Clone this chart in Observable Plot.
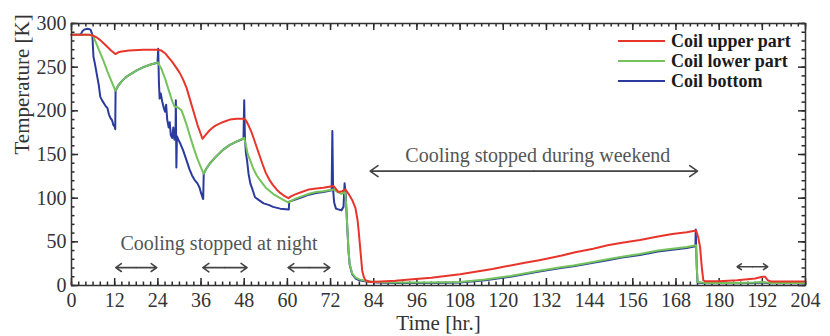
<!DOCTYPE html>
<html><head><meta charset="utf-8">
<script src="https://cdn.jsdelivr.net/npm/d3@7"></script>
<script src="https://cdn.jsdelivr.net/npm/@observablehq/plot@0.6"></script>
<style>
body{margin:0;background:#fff;}
#wrap{position:relative;width:830px;height:336px;overflow:hidden;}
#legend{position:absolute;left:618px;top:31px;font:bold 18px "Liberation Serif",serif;color:#1a1a1a;}
.row{display:flex;align-items:center;height:20px;white-space:nowrap;}
.sw{width:47px;height:2px;margin-right:6px;}
</style></head><body><div id="wrap"></div>
<script>
const seriesNames = ["Coil upper part", "Coil lower part", "Coil bottom"];
const seriesColors = ["#e8352b", "#74c25b", "#2b3a9d"];

// [time hr, temperature K]
const upperPart = [[0,287],[3,287],[5,287],[6,286],[7,284],[8,281],[9,277],[10,273],[11,269],[12.2,265],[13,267],[14,268],[16,269],[20,270],[24,270],[25,269],[26,266],[27,261],[28,256],[29,250],[30,244],[31,236],[32,226],[33,212],[34,198],[35,184],[36.4,168],[37,171],[38,176],[39,180],[40,183],[42,187],[44,190],[46,191],[48,191],[48.5,189],[49,185],[50,176],[51,164],[52,152],[53,140],[54,129],[55,121],[56,115],[57,110],[58,106],[59,103],[60.3,100],[61,102],[62,104],[64,107],[66,110],[68,111],[70,112],[72.8,114],[74.2,107],[75.3,108],[76.1,110],[77,105],[78,98],[78.9,89],[79.5,75],[79.8,63],[80.3,40],[80.8,17],[81.3,9],[81.7,6],[83,4],[86,4.5],[90,5.5],[94,7],[100,9],[108,13],[117,19],[126,26],[130,29],[136,34],[140,38],[145,42],[149,46],[153,49],[158,52],[163,56],[167,59],[171,61],[173.6,63],[174.2,55],[174.7,44],[175.2,20],[175.6,6],[176,5],[180,5],[185,6],[190,8],[192,10],[192.8,10],[193.5,6],[194.5,4.5],[204,4.5]];

const lowerPart = [[0,287],[5,287],[6,286],[6.5,281],[7,276],[8,266],[9,256],[10,245],[11,235],[12.2,223],[13,229],[14,234],[15,238],[16,241],[18,246],[20,250],[22,253],[24,255.5],[25,248],[26,237],[27,224],[28,211],[28.6,205],[29.5,204],[30.5,201],[31,196],[32,184],[33,170],[34,157],[35,145],[36,135],[36.7,128],[37.5,134],[38.5,140],[40,147],[42,155],[44,161],[46,165],[48,169],[48.5,160],[49,150],[49.7,143],[50.5,134],[51.5,126],[52.5,120],[54,112],[56,105],[58,100],[60.3,95],[61,97],[62,99],[64,102],[66,105],[68,107],[70,108],[72.8,110],[74,107],[75,105],[76,107],[76.3,95],[76.6,71],[77,40],[77.3,25],[78,14],[79,9],[80,7],[82,5],[85,4],[90,3.5],[100,3.5],[108,4],[115,7],[122,11],[130,17],[136,21],[139.5,23],[145,27],[149,30],[153,33],[158,36],[163,40],[167,42],[171,44],[173.6,46],[173.8,20],[174,4],[176,3],[185,3],[190,3.5],[192,4],[194,3],[204,3]];

const bottomPart = [[0,287],[2.5,287],[3,291],[3.5,293],[4.5,294],[5.3,293],[5.8,287],[6.1,262],[6.5,254],[7.2,238],[7.6,229],[8,216],[8.5,212],[9.4,206],[10,203],[10.4,196],[10.8,192],[11.3,189],[11.6,184],[12,182],[12.15,179],[12.25,223],[13,229],[14,234],[15,238],[16,241],[18,246],[20,250],[22,253],[23.9,255],[24.1,271],[24.3,232],[24.5,214],[24.8,220],[25.2,211],[25.6,204],[26,199],[26.3,207],[26.6,190],[27,181],[27.3,187],[27.6,172],[28,169],[28.3,181],[28.6,167],[28.9,174],[29.0,212],[29.15,135],[29.3,171],[29.7,167],[30.3,162],[31,155],[32,143],[32.8,133],[33.5,126],[34.2,121],[35,117],[35.6,112],[36,106],[36.4,101],[36.6,99],[36.75,128],[37.5,134],[38.5,140],[40,147],[42,155],[44,161],[46,165],[47.8,168],[48,212],[48.2,168],[48.5,151],[48.8,143],[49.2,128],[49.7,117],[50.3,110],[51,101],[52,98],[53.4,94],[55,92],[56,90],[58,88],[60.4,87],[60.5,96],[62,98],[64,101],[66,104],[68,106],[70,107],[72.3,109],[72.5,177],[72.7,110],[73,95],[73.5,88],[75,86],[75.6,90],[75.9,117],[76.2,104],[76.6,70],[77,39],[77.3,24],[78,13],[79,8],[80,6],[82,4.5],[85,3.5],[90,3],[100,3],[108,3.5],[115,6],[122,10],[130,16],[136,20],[139.5,22],[145,26],[149,29],[153,32],[158,35],[163,39],[167,41],[171,43],[173.4,45],[173.5,64],[173.6,45],[173.8,19],[174,3.5],[176,2.5],[185,2.5],[190,3],[192,3.5],[194,2.5],[204,2.5]];

const xTicks = [0,12,24,36,48,60,72,84,96,108,120,132,144,156,168,180,192,204];
const xMinorTicks = d3.range(0, 205, 2);
const yTicks = [0,50,100,150,200,250,300];
const yMinorTicks = d3.range(0, 301, 10);

// annotations: [label, time, temp]
const noteTexts = [["Cooling stopped at night", 41, 48], ["Cooling stopped during weekend", 129.6, 149]];
// double arrows: [start hr, end hr, temp]
const arrowSpans = [[12.3,23.7,20.5],[36.5,48.8,20.5],[60.2,71.8,20.5],[185,193.5,21.5],[83,174,131]];

const rows = [];
[[seriesNames[2], bottomPart], [seriesNames[1], lowerPart], [seriesNames[0], upperPart]].forEach(([name, arr]) => {
  arr.forEach(([t, K]) => rows.push({series: name, t, K}));
});
const arrows = arrowSpans.map(([a, b, K]) => ({a, b, m: (a + b) / 2, K}));
const notes = noteTexts.map(([text, t, K]) => ({text, t, K}));

const W = 830, H = 336, mL = 71, mR = 25, mT = 23, mB = 51;
const xDom = [0, 204], yDom = [0, 300];
const fw = W - mL - mR, fh = H - mT - mB;
// tick lengths in pixels converted to data units
const pxX = (xDom[1] - xDom[0]) / fw, pxY = (yDom[1] - yDom[0]) / fh;
const major = 7, minor = 3.5;
const axisColor = "#333";
const tickStyle = {stroke: "#2a2a2a", strokeWidth: 1.5};
const xTick = (ticks, len, side) => Plot.ruleX(ticks, {x: d => d,
  y1: side === "bottom" ? yDom[0] : yDom[1],
  y2: side === "bottom" ? yDom[0] + len * pxY : yDom[1] - len * pxY, ...tickStyle});
const yTick = (ticks, len, side) => Plot.ruleY(ticks, {y: d => d,
  x1: side === "left" ? xDom[0] : xDom[1],
  x2: side === "left" ? xDom[0] + len * pxX : xDom[1] - len * pxX, ...tickStyle});

const chart = Plot.plot({
  width: W, height: H,
  marginLeft: mL, marginRight: mR, marginTop: mT, marginBottom: mB,
  x: {domain: xDom},
  y: {domain: yDom},
  color: {domain: seriesNames, range: seriesColors},
  style: {fontFamily: "'Liberation Serif', serif", fontSize: "20px", color: axisColor, background: "#fff"},
  marks: [
    Plot.axisX({ticks: xTicks, tickSize: 0, tickPadding: 7, label: null, fontSize: 20}),
    Plot.axisY({ticks: yTicks, tickSize: 0, tickPadding: 5, label: null, fontSize: 20}),
    xTick(xTicks, major, "bottom"), xTick(xMinorTicks, minor, "bottom"),
    xTick(xTicks, major, "top"), xTick(xMinorTicks, minor, "top"),
    yTick(yTicks, major, "left"), yTick(yMinorTicks, minor, "left"),
    yTick(yTicks, major, "right"), yTick(yMinorTicks, minor, "right"),
    Plot.text(["Time [hr.]"], {frameAnchor: "bottom", dy: 44, fontSize: 21, fill: axisColor}),
    Plot.text(["Temperature [K]"], {frameAnchor: "left", dx: -49, rotate: -90, fontSize: 21, fill: axisColor}),
    Plot.line(rows, {x: "t", y: "K", z: "series", stroke: "series", strokeWidth: 2, curve: "linear"}),
    Plot.text(notes, {x: "t", y: "K", text: "text", fontSize: 20, fill: "#555"}),
    Plot.arrow(arrows, {x1: "m", x2: "a", y1: "K", y2: "K", stroke: "#444", strokeWidth: 1.6, headLength: 9, headAngle: 70}),
    Plot.arrow(arrows, {x1: "m", x2: "b", y1: "K", y2: "K", stroke: "#444", strokeWidth: 1.6, headLength: 9, headAngle: 70}),
    Plot.frame({stroke: axisColor, strokeWidth: 1.5})
  ]
});
const wrap = document.getElementById("wrap");
wrap.appendChild(chart);
const legend = document.createElement("div");
legend.id = "legend";
seriesNames.forEach((name, i) => {
  const row = document.createElement("div");
  row.className = "row";
  const sw = document.createElement("span");
  sw.className = "sw";
  sw.style.background = seriesColors[i];
  const label = document.createElement("span");
  label.textContent = name;
  row.appendChild(sw);
  row.appendChild(label);
  legend.appendChild(row);
});
wrap.appendChild(legend);
</script>
</body></html>
